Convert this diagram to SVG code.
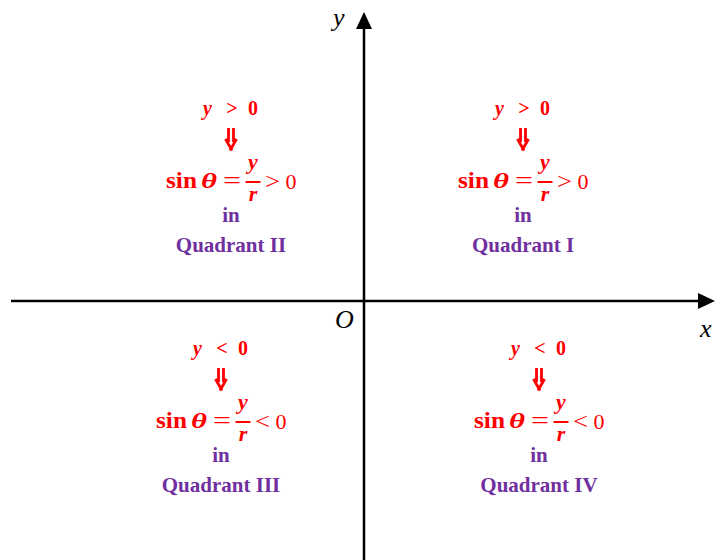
<svg xmlns="http://www.w3.org/2000/svg" width="715" height="560" viewBox="0 0 715 560">
<defs>
<style>
.ax{stroke:#000;stroke-width:2.5;fill:none}
.ah{fill:#000}
.lbl{font-family:"Liberation Serif",serif;font-style:italic;font-size:26px;fill:#000}
.r{font-family:"Liberation Serif",serif;fill:#ff0000}
.b{font-weight:bold}
.i{font-style:italic}
.p{font-family:"Liberation Serif",serif;font-weight:bold;font-size:21px;fill:#7030a0;text-anchor:middle}
.m{text-anchor:middle}
.bar{stroke:#ff0000;stroke-width:2}
.dn{stroke:#ff0000;stroke-width:2.8;fill:none;stroke-linejoin:miter}
</style>
</defs>
<g id="axes">
<line class="ax" x1="11" y1="301" x2="700" y2="301"/>
<polygon class="ah" points="715,301 698,293 698,309"/>
<line class="ax" x1="364" y1="28" x2="364" y2="560"/>
<polygon class="ah" points="364,12 356,29 372,29"/>
<text class="lbl" x="333" y="26">y</text>
<text class="lbl" x="335" y="328">O</text>
<text class="lbl" x="700" y="337">x</text>
</g>
<g id="q1" transform="translate(523,0)">
<text class="r b m" x="-23.5" y="115" font-size="20" font-style="italic">y</text>
<text class="r b m" x="1" y="115" font-size="20">&gt;</text>
<text class="r b m" x="22" y="115" font-size="20">0</text>
<path class="dn" d="M-2.5 128V142M2.5 128V142M-5.5 139L1 150.5M5.5 139L-1 150.5"/>
<text class="r b" x="-65" y="188" font-size="23" textLength="31" lengthAdjust="spacingAndGlyphs">sin</text>
<text class="r b i" x="-30" y="188" font-size="22" textLength="16" lengthAdjust="spacingAndGlyphs">θ</text>
<text class="r" x="-8" y="188" font-size="23" textLength="18" lengthAdjust="spacingAndGlyphs">=</text>
<text class="r b i m" x="22" y="169" font-size="22">y</text>
<line class="bar" x1="14.5" y1="182" x2="29.5" y2="182"/>
<text class="r b i m" x="22" y="201" font-size="22">r</text>
<text class="r" x="34" y="189" font-size="24" textLength="15" lengthAdjust="spacingAndGlyphs">&gt;</text>
<text class="r m" x="60" y="189" font-size="22">0</text>
<text class="p" x="0" y="222">in</text>
<text class="p" x="0" y="252">Quadrant I</text>
</g>
<g id="q2" transform="translate(231,0)">
<text class="r b m" x="-23.5" y="115" font-size="20" font-style="italic">y</text>
<text class="r b m" x="1" y="115" font-size="20">&gt;</text>
<text class="r b m" x="22" y="115" font-size="20">0</text>
<path class="dn" d="M-2.5 128V142M2.5 128V142M-5.5 139L1 150.5M5.5 139L-1 150.5"/>
<text class="r b" x="-65" y="188" font-size="23" textLength="31" lengthAdjust="spacingAndGlyphs">sin</text>
<text class="r b i" x="-30" y="188" font-size="22" textLength="16" lengthAdjust="spacingAndGlyphs">θ</text>
<text class="r" x="-8" y="188" font-size="23" textLength="18" lengthAdjust="spacingAndGlyphs">=</text>
<text class="r b i m" x="22" y="169" font-size="22">y</text>
<line class="bar" x1="14.5" y1="182" x2="29.5" y2="182"/>
<text class="r b i m" x="22" y="201" font-size="22">r</text>
<text class="r" x="34" y="189" font-size="24" textLength="15" lengthAdjust="spacingAndGlyphs">&gt;</text>
<text class="r m" x="60" y="189" font-size="22">0</text>
<text class="p" x="0" y="222">in</text>
<text class="p" x="0" y="252">Quadrant II</text>
</g>
<g id="q3" transform="translate(221,240)">
<text class="r b m" x="-23.5" y="115" font-size="20" font-style="italic">y</text>
<text class="r b m" x="1" y="115" font-size="20">&lt;</text>
<text class="r b m" x="22" y="115" font-size="20">0</text>
<path class="dn" d="M-2.5 128V142M2.5 128V142M-5.5 139L1 150.5M5.5 139L-1 150.5"/>
<text class="r b" x="-65" y="188" font-size="23" textLength="31" lengthAdjust="spacingAndGlyphs">sin</text>
<text class="r b i" x="-30" y="188" font-size="22" textLength="16" lengthAdjust="spacingAndGlyphs">θ</text>
<text class="r" x="-8" y="188" font-size="23" textLength="18" lengthAdjust="spacingAndGlyphs">=</text>
<text class="r b i m" x="22" y="169" font-size="22">y</text>
<line class="bar" x1="14.5" y1="182" x2="29.5" y2="182"/>
<text class="r b i m" x="22" y="201" font-size="22">r</text>
<text class="r" x="34" y="189" font-size="24" textLength="15" lengthAdjust="spacingAndGlyphs">&lt;</text>
<text class="r m" x="60" y="189" font-size="22">0</text>
<text class="p" x="0" y="222">in</text>
<text class="p" x="0" y="252">Quadrant III</text>
</g>
<g id="q4" transform="translate(539,240)">
<text class="r b m" x="-23.5" y="115" font-size="20" font-style="italic">y</text>
<text class="r b m" x="1" y="115" font-size="20">&lt;</text>
<text class="r b m" x="22" y="115" font-size="20">0</text>
<path class="dn" d="M-2.5 128V142M2.5 128V142M-5.5 139L1 150.5M5.5 139L-1 150.5"/>
<text class="r b" x="-65" y="188" font-size="23" textLength="31" lengthAdjust="spacingAndGlyphs">sin</text>
<text class="r b i" x="-30" y="188" font-size="22" textLength="16" lengthAdjust="spacingAndGlyphs">θ</text>
<text class="r" x="-8" y="188" font-size="23" textLength="18" lengthAdjust="spacingAndGlyphs">=</text>
<text class="r b i m" x="22" y="169" font-size="22">y</text>
<line class="bar" x1="14.5" y1="182" x2="29.5" y2="182"/>
<text class="r b i m" x="22" y="201" font-size="22">r</text>
<text class="r" x="34" y="189" font-size="24" textLength="15" lengthAdjust="spacingAndGlyphs">&lt;</text>
<text class="r m" x="60" y="189" font-size="22">0</text>
<text class="p" x="0" y="222">in</text>
<text class="p" x="0" y="252">Quadrant IV</text>
</g>
</svg>
